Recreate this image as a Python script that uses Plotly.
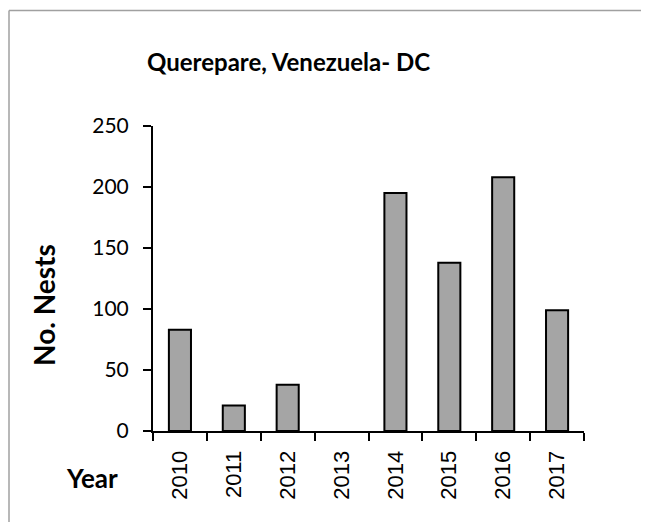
import plotly.graph_objects as go

years = ["2010", "2011", "2012", "2013", "2014", "2015", "2016", "2017"]
nests = [83, 21, 38, 0, 195, 138, 208, 99]
y_ticks = [0, 50, 100, 150, 200, 250]

W, H = 649, 522
OFF = 8  # page body margin offset
L, R, T, B = 153 - OFF, 649 - 584 + OFF, 126 - OFF, 522 - 431 + OFF
pw, ph = W - L - R, H - T - B

def px_x(x):
    return (x - OFF - L) / pw

def px_y(y):
    return (H - B - (y - OFF)) / ph

line_w = [0 if v == 0 else 2 for v in nests]

fig = go.Figure(go.Bar(
    x=years, y=nests, width=0.41,
    marker=dict(color="#a5a5a5", line=dict(color="black", width=line_w)),
))

fig.update_layout(
    width=W, height=H,
    margin=dict(l=L, r=R, t=T, b=B),
    paper_bgcolor="white", plot_bgcolor="white",
    showlegend=False,
    xaxis=dict(
        type="category", range=[-0.5, 7.5],
        showline=True, linecolor="black", linewidth=2,
        ticks="outside", tickson="boundaries", ticklen=8, tickwidth=2, tickcolor="black",
        tickangle=-90, showgrid=False, zeroline=False,
        tickfont=dict(family="Liberation Sans, Arial", size=22, color="black"),
        ticklabelstandoff=9,
    ),
    yaxis=dict(
        range=[0, 250], tickvals=y_ticks,
        showline=True, linecolor="black", linewidth=2,
        ticks="outside", ticklen=8, tickwidth=2, tickcolor="black",
        showgrid=False, zeroline=False,
        tickfont=dict(family="Lato, sans-serif", size=21, color="black"),
        ticklabelstandoff=10,
    ),
    annotations=[
        dict(text="<b>Querepare, Venezuela- DC</b>", x=px_x(288), y=px_y(62),
             xref="paper", yref="paper", showarrow=False, xanchor="center", yanchor="middle",
             font=dict(family="Lato, sans-serif", size=24, color="black")),
        dict(text="<b>No. Nests</b>", x=px_x(44), y=px_y(305), textangle=-90,
             xref="paper", yref="paper", showarrow=False, xanchor="center", yanchor="middle",
             font=dict(family="Lato, sans-serif", size=28, color="black")),
        dict(text="<b>Year</b>", x=px_x(92), y=px_y(478),
             xref="paper", yref="paper", showarrow=False, xanchor="center", yanchor="middle",
             font=dict(family="Lato, sans-serif", size=26, color="black")),
    ],
    shapes=[
        dict(type="line", xref="paper", yref="paper", x0=px_x(9), x1=px_x(OFF + W),
             y0=px_y(10.5), y1=px_y(10.5), line=dict(color="#a0a0a0", width=1.5)),
        dict(type="line", xref="paper", yref="paper", x0=px_x(9), x1=px_x(9),
             y0=px_y(10.5), y1=px_y(OFF + H), line=dict(color="#a0a0a0", width=1.5)),
    ],
)

fig.write_html("out.html")
